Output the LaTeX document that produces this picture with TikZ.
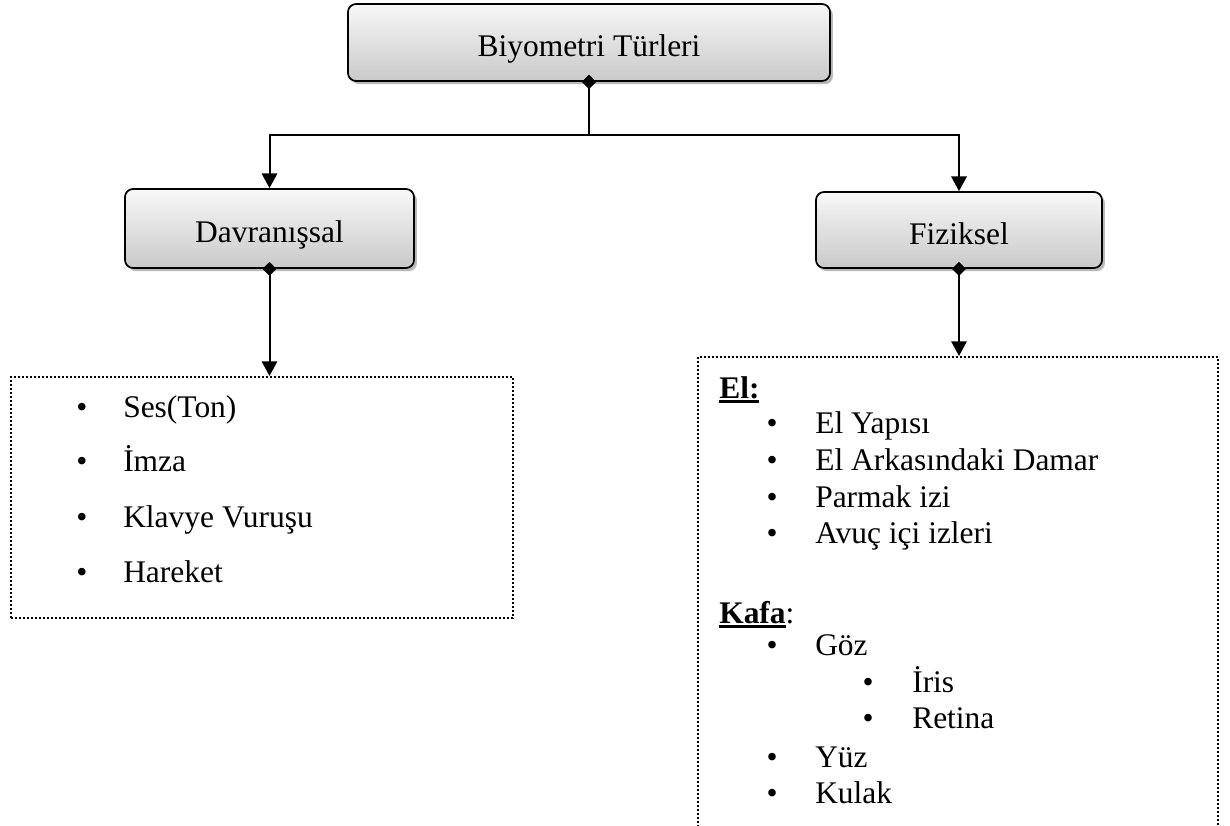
\documentclass[tikz,border=0pt]{standalone}
\usepackage{fontspec}
\setmainfont{Liberation Serif}
\usetikzlibrary{arrows.meta,shadows}

% thick underline for the group headings
\newsavebox\ulbox
\newcommand\headul[1]{\sbox\ulbox{#1}\rlap{\rule[-3.6pt]{\wd\ulbox}{2.1pt}}\usebox\ulbox}

\tikzset{
  txt/.style={font=\fontsize{23.6}{28}\selectfont, inner sep=0pt},
  rbox/.style={txt, text height=26pt, text depth=4.4pt,
    draw=black, line width=1.3pt, rounded corners=6pt,
    top color=black!3, bottom color=black!21,
    drop shadow={shadow xshift=2.2pt, shadow yshift=-2.4pt, fill=black!50, opacity=0.55}},
  listbox/.style={draw=black, line width=1.5pt, dash pattern=on 1.5pt off 1.5pt, inner sep=0pt},
  conn/.style={line width=1.5pt, {Diamond[width=10.5pt,length=10.5pt]}-{Triangle[width=11.5pt,length=11pt]}},
  item/.style={txt, anchor=base west},
  bul/.style={txt, anchor=base},
}

\begin{document}
\begin{tikzpicture}[x=0.75pt, y=-0.75pt]
\useasboundingbox (0,0) rectangle (1230,825);
\begin{scope}
\clip (0,0) rectangle (1230,825);

% category boxes
\node[rbox, minimum width=361.5pt, minimum height=57.75pt] (top) at (589,42.5) {Biyometri Türleri};
\node[rbox, minimum width=216.75pt, minimum height=59.25pt] (davr) at (269.5,228.5) {Davranışsal};
\node[rbox, minimum width=214.5pt, minimum height=57pt] (fiz) at (959,230) {Fiziksel};

% list frames
\node[listbox, minimum width=376.5pt, minimum height=180.75pt] (davlist) at (262,497.5) {};
\node[listbox, minimum width=390pt, minimum height=366pt] (fizlist) at (958,601) {};

% connectors
\coordinate (jn) at (589,135);
\draw[conn] ([yshift=5.25pt]top.south) -- (top.south |- jn) -| (davr.north);
\draw[conn] ([yshift=5.25pt]top.south) -- (top.south |- jn) -| (fiz.north);
\draw[conn] ([yshift=5.25pt]davr.south) -- (davr.south |- davlist.north);
\draw[conn] ([yshift=5.25pt]fiz.south) -- (fiz.south |- fizlist.north);

% behavioural items
\node[bul] (b1) at (82,417) {•};  \node[item] (t1) at (123,417) {Ses(Ton)};
\node[bul] (b2) at (82,471) {•};  \node[item] (t2) at (123,471) {İmza};
\node[bul] (b3) at (82,527) {•};  \node[item] (t3) at (123,527) {Klavye Vuruşu};
\node[bul] (b4) at (82,582) {•};  \node[item] (t4) at (123,582) {Hareket};

% physical items
\node[item] (hel) at (719,398) {\headul{\textbf{El:}}};
\node[bul] (pb1) at (772,433) {•};  \node[item] (p1) at (815,433) {El Yapısı};
\node[bul] (pb2) at (772,470) {•};  \node[item] (p2) at (815,470) {El Arkasındaki Damar};
\node[bul] (pb3) at (772,507) {•};  \node[item] (p3) at (815,507) {Parmak izi};
\node[bul] (pb4) at (772,543) {•};  \node[item] (p4) at (815,543) {Avuç içi izleri};

\node[item] (hkafa) at (719,623) {\headul{\textbf{Kafa}}:};
\node[bul] (kb1) at (772,655) {•};  \node[item] (k1) at (815,655) {Göz};
\node[bul] (kb2) at (868,692) {•};  \node[item] (k2) at (912,692) {İris};
\node[bul] (kb3) at (868,728) {•};  \node[item] (k3) at (912,728) {Retina};
\node[bul] (kb4) at (772,767) {•};  \node[item] (k4) at (815,767) {Yüz};
\node[bul] (kb5) at (772,803) {•};  \node[item] (k5) at (815,803) {Kulak};
\end{scope}
\end{tikzpicture}
\end{document}
